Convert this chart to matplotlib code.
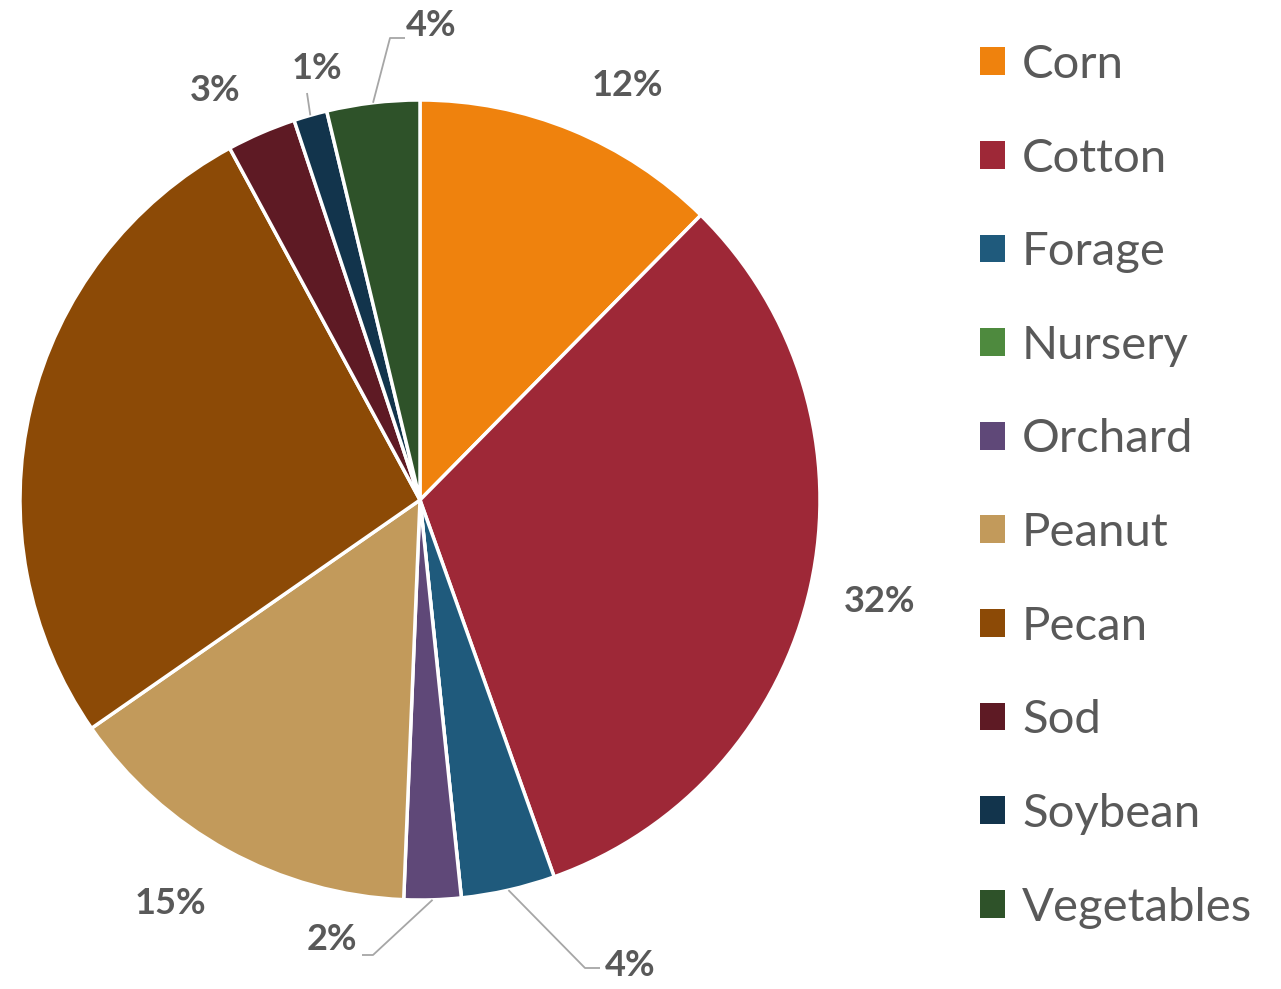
import matplotlib
matplotlib.use("Agg")
import matplotlib.pyplot as plt
import numpy as np

plt.rcParams['font.family'] = ['Lato', 'DejaVu Sans']

categories = ["Corn", "Cotton", "Forage", "Nursery", "Orchard", "Peanut", "Pecan", "Sod", "Soybean", "Vegetables"]
shares = [12.4, 32.2, 3.8, 0.0, 2.3, 14.7, 26.8, 2.8, 1.35, 3.75]
label_text = ["12%", "32%", "4%", None, "2%", "15%", None, "3%", "1%", "4%"]
colors = ["#EF820D", "#9E2837", "#1F5A7C", "#4E8A3E", "#5F4878", "#C29A5B",
          "#8C4A06", "#5E1A24", "#12344C", "#2E5229"]

TEXT = "#595959"

fig = plt.figure(figsize=(12.81, 9.89), dpi=100)
ax = fig.add_axes([20/1281, 89/989, 800/1281, 800/989])
wedges, _ = ax.pie(shares, colors=colors, startangle=90, counterclock=False,
                   radius=1.0, wedgeprops=dict(edgecolor="white", linewidth=2.5))
ax.set_xlim(-1, 1)
ax.set_ylim(-1, 1)
ax.set_aspect("equal")
ax.axis("off")

# label layout: (x, y, ha) in data units, plus optional leader elbow/end
label_layout = {
    0: dict(xy=(0.5175, 1.0375), ha="center"),
    1: dict(xy=(1.15, -0.255), ha="center"),
    2: dict(xy=(0.4625, -1.1625), ha="left", elbow=(0.4125, -1.17), end=(0.45, -1.17)),
    4: dict(xy=(-0.1575, -1.10), ha="right", elbow=(-0.1175, -1.1375), end=(-0.145, -1.1375)),
    5: dict(xy=(-0.625, -1.0075), ha="center"),
    7: dict(xy=(-0.5125, 1.025), ha="center"),
    8: dict(xy=(-0.2575, 1.08), ha="center", elbow=(-0.2825, 1.0175), end=(-0.2825, 1.0175)),
    9: dict(xy=(0.0275, 1.1875), ha="center", elbow=(-0.075, 1.155), end=(-0.0375, 1.155)),
}

for i, w in enumerate(wedges):
    if label_text[i] is None:
        continue
    lay = label_layout[i]
    if "elbow" in lay:
        mid = np.deg2rad((w.theta1 + w.theta2) / 2)
        start = (np.cos(mid) * w.r, np.sin(mid) * w.r)
        xs = [start[0], lay["elbow"][0], lay["end"][0]]
        ys = [start[1], lay["elbow"][1], lay["end"][1]]
        ax.plot(xs, ys, color="#A6A6A6", linewidth=1.3, clip_on=False, solid_capstyle="butt")
    ax.text(lay["xy"][0], lay["xy"][1], label_text[i], ha=lay["ha"], va="center",
            fontsize=26, fontweight="bold", color=TEXT, clip_on=False)

handles = [plt.Rectangle((0, 0), 1, 1, facecolor=c, edgecolor="none") for c in colors]
leg = fig.legend(handles, categories, loc="upper left", bbox_to_anchor=(980/1281, 1 - 44/989),
                 frameon=False, fontsize=34, handlelength=0.53, handleheight=0.53,
                 handletextpad=0.36, labelspacing=1.093, borderaxespad=0, borderpad=0)
for t in leg.get_texts():
    t.set_color(TEXT)

fig.savefig("out.png", dpi=100, facecolor="white")
